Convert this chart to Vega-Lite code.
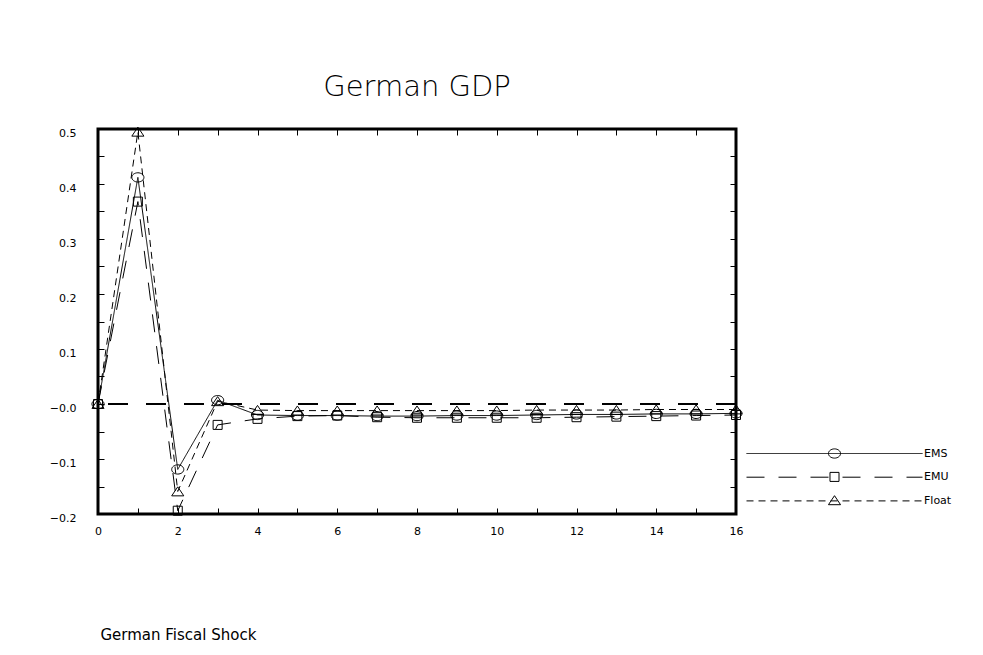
{
  "$schema": "https://vega.github.io/schema/vega-lite/v6.json",
  "autosize": {"type": "none"},
  "width": 638,
  "height": 385,
  "padding": {"left": 98, "top": 129, "right": 247, "bottom": 141},
  "background": "white",
  "title": {"text": "German GDP", "font": "DejaVu Sans", "fontSize": 29, "fontWeight": 200, "color": "black", "anchor": "middle", "baseline": "alphabetic", "offset": 0},
  "config": {
    "view": {"stroke": "black", "strokeWidth": 3},
    "font": "DejaVu Sans",
    "axis": {"labelFont": "DejaVu Sans", "labelFontSize": 11, "labelColor": "black", "tickColor": "black", "tickWidth": 1, "grid": false, "domain": false},
    "legend": {"labelFont": "DejaVu Sans", "labelFontSize": 11, "labelColor": "black"}
  },
  "data": {"values": [
    {"t": 0, "series": "EMS", "value": 0},
    {"t": 1, "series": "EMS", "value": 0.412},
    {"t": 2, "series": "EMS", "value": -0.119},
    {"t": 3, "series": "EMS", "value": 0.007},
    {"t": 4, "series": "EMS", "value": -0.020},
    {"t": 5, "series": "EMS", "value": -0.021},
    {"t": 6, "series": "EMS", "value": -0.021},
    {"t": 7, "series": "EMS", "value": -0.022},
    {"t": 8, "series": "EMS", "value": -0.022},
    {"t": 9, "series": "EMS", "value": -0.021},
    {"t": 10, "series": "EMS", "value": -0.021},
    {"t": 11, "series": "EMS", "value": -0.020},
    {"t": 12, "series": "EMS", "value": -0.019},
    {"t": 13, "series": "EMS", "value": -0.019},
    {"t": 14, "series": "EMS", "value": -0.018},
    {"t": 15, "series": "EMS", "value": -0.018},
    {"t": 16, "series": "EMS", "value": -0.017},
    {"t": 0, "series": "EMU", "value": 0},
    {"t": 1, "series": "EMU", "value": 0.368},
    {"t": 2, "series": "EMU", "value": -0.194},
    {"t": 3, "series": "EMU", "value": -0.038},
    {"t": 4, "series": "EMU", "value": -0.027},
    {"t": 5, "series": "EMU", "value": -0.022},
    {"t": 6, "series": "EMU", "value": -0.021},
    {"t": 7, "series": "EMU", "value": -0.024},
    {"t": 8, "series": "EMU", "value": -0.025},
    {"t": 9, "series": "EMU", "value": -0.025},
    {"t": 10, "series": "EMU", "value": -0.025},
    {"t": 11, "series": "EMU", "value": -0.025},
    {"t": 12, "series": "EMU", "value": -0.024},
    {"t": 13, "series": "EMU", "value": -0.023},
    {"t": 14, "series": "EMU", "value": -0.022},
    {"t": 15, "series": "EMU", "value": -0.021},
    {"t": 16, "series": "EMU", "value": -0.020},
    {"t": 0, "series": "Float", "value": 0},
    {"t": 1, "series": "Float", "value": 0.495},
    {"t": 2, "series": "Float", "value": -0.159},
    {"t": 3, "series": "Float", "value": 0.005},
    {"t": 4, "series": "Float", "value": -0.011},
    {"t": 5, "series": "Float", "value": -0.012},
    {"t": 6, "series": "Float", "value": -0.012},
    {"t": 7, "series": "Float", "value": -0.012},
    {"t": 8, "series": "Float", "value": -0.012},
    {"t": 9, "series": "Float", "value": -0.012},
    {"t": 10, "series": "Float", "value": -0.012},
    {"t": 11, "series": "Float", "value": -0.011},
    {"t": 12, "series": "Float", "value": -0.011},
    {"t": 13, "series": "Float", "value": -0.011},
    {"t": 14, "series": "Float", "value": -0.010},
    {"t": 15, "series": "Float", "value": -0.010},
    {"t": 16, "series": "Float", "value": -0.010}
  ]},
  "resolve": {"axis": {"x": "independent", "y": "independent"}},
  "layer": [
    {
      "mark": {"type": "rule", "color": "black", "strokeWidth": 1, "strokeDash": [20, 18]},
      "encoding": {"y": {"datum": 0, "type": "quantitative", "axis": null}}
    },
    {
      "mark": {"type": "line", "color": "black", "strokeWidth": 1},
      "encoding": {
        "x": {"field": "t", "type": "quantitative", "scale": {"domain": [0, 16], "nice": false},
              "axis": {"orient": "bottom", "title": "German Fiscal Shock", "values": [0,1,2,3,4,5,6,7,8,9,10,11,12,13,14,15,16],
                       "labelExpr": "datum.value % 2 == 0 ? datum.label : ''", "tickSize": -6, "labelPadding": 17, "labelFlush": false,
                       "titleFont": "DejaVu Sans", "titleFontSize": 15, "titleFontWeight": "normal", "titleColor": "black",
                       "titleAnchor": "start", "titleAlign": "left", "titleBaseline": "alphabetic", "titleX": 2, "titleY": 125}},
        "y": {"field": "value", "type": "quantitative", "scale": {"domain": [-0.2, 0.5], "nice": false, "zero": false},
              "axis": {"orient": "left", "title": null, "values": [-0.2,-0.15,-0.1,-0.05,0,0.05,0.1,0.15,0.2,0.25,0.3,0.35,0.4,0.45,0.5],
                       "labelExpr": "abs(datum.value) < 1e-9 ? '\u22120.0' : (round(datum.value*100) % 10 == 0 ? format(datum.value, '.1f') : '')",
                       "tickSize": -6, "labelPadding": 28, "labelOffset": 4}},
        "strokeDash": {"field": "series", "type": "nominal",
                       "scale": {"range": [[1, 0], [18, 14], [7, 5]]},
                       "legend": {"orient": "none", "legendX": 725, "legendY": 313, "title": null, "gridAlign": "all",
                                  "symbolType": "M-8,0H8", "symbolSize": 484, "symbolStrokeColor": "black", "symbolStrokeWidth": 1,
                                  "labelOffset": 78, "rowPadding": 6.7}}
      }
    },
    {
      "mark": {"type": "point", "filled": false, "color": "black", "strokeWidth": 1, "size": 484, "opacity": 1},
      "encoding": {
        "x": {"field": "t", "type": "quantitative",
              "axis": {"orient": "top", "title": null, "labels": false, "values": [0,1,2,3,4,5,6,7,8,9,10,11,12,13,14,15,16], "tickSize": -6}},
        "y": {"field": "value", "type": "quantitative",
              "axis": {"orient": "right", "title": null, "labels": false, "values": [-0.2,-0.15,-0.1,-0.05,0,0.05,0.1,0.15,0.2,0.25,0.3,0.35,0.4,0.45,0.5], "tickSize": -6}},
        "shape": {"field": "series", "type": "nominal",
                  "scale": {"domain": ["EMS", "EMU", "Float"],
                            "range": ["M-0.55,0A0.55,0.42,0,1,1,0.55,0A0.55,0.42,0,1,1,-0.55,0Z",
                                      "M-0.41,-0.41H0.41V0.41H-0.41Z",
                                      "M0,-0.42L0.55,0.4L-0.55,0.4Z"]},
                  "legend": {"orient": "none", "legendX": 725, "legendY": 313, "title": null, "gridAlign": "all",
                             "symbolSize": 484, "symbolStrokeColor": "black", "symbolStrokeWidth": 1, "symbolFillColor": "transparent",
                             "labelExpr": "''", "labelOffset": 78, "rowPadding": 4.4}}
      }
    }
  ]
}
